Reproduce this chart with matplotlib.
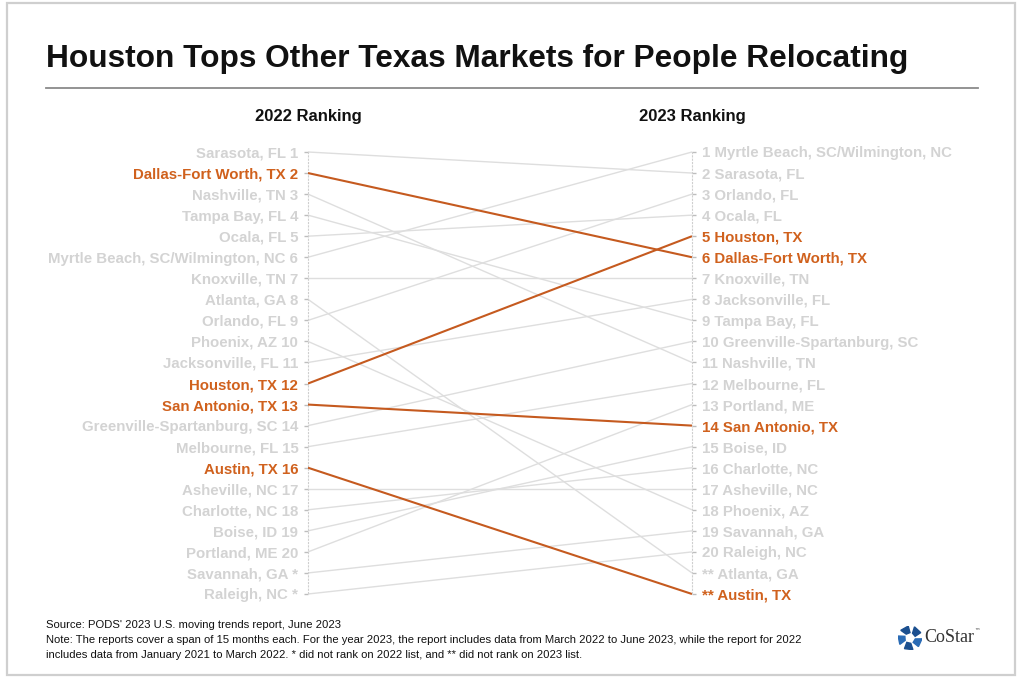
import matplotlib
matplotlib.use("Agg")
import matplotlib.pyplot as plt
from matplotlib.patches import Rectangle, Polygon
import numpy as np

plt.rcParams['font.family'] = ['Liberation Sans', 'DejaVu Sans']

# ---- data ----
cities = ["Sarasota, FL", "Dallas-Fort Worth, TX", "Nashville, TN", "Tampa Bay, FL",
          "Ocala, FL", "Myrtle Beach, SC/Wilmington, NC", "Knoxville, TN", "Atlanta, GA",
          "Orlando, FL", "Phoenix, AZ", "Jacksonville, FL", "Houston, TX",
          "San Antonio, TX", "Greenville-Spartanburg, SC", "Melbourne, FL", "Austin, TX",
          "Asheville, NC", "Charlotte, NC", "Boise, ID", "Portland, ME",
          "Savannah, GA", "Raleigh, NC"]
pos_2022 = [1, 2, 3, 4, 5, 6, 7, 8, 9, 10, 11, 12, 13, 14, 15, 16, 17, 18, 19, 20, 21, 22]
rank_2022 = ["1", "2", "3", "4", "5", "6", "7", "8", "9", "10", "11", "12", "13", "14",
             "15", "16", "17", "18", "19", "20", "*", "*"]
pos_2023 = [2, 6, 11, 9, 4, 1, 7, 21, 3, 18, 8, 5, 14, 10, 12, 22, 17, 16, 15, 13, 19, 20]
rank_2023 = ["2", "6", "11", "9", "4", "1", "7", "**", "3", "18", "8", "5", "14", "10",
             "12", "**", "17", "16", "15", "13", "19", "20"]
texas = ["Dallas-Fort Worth, TX", "Houston, TX", "San Antonio, TX", "Austin, TX"]

title = "Houston Tops Other Texas Markets for People Relocating"
source = "Source: PODS' 2023 U.S. moving trends report, June 2023"
note1 = ("Note: The reports cover a span of 15 months each. For the year 2023, the report includes "
         "data from March 2022 to June 2023, while the report for 2022")
note2 = ("includes data from January 2021 to March 2022. * did not rank on 2022 list, "
         "and ** did not rank on 2023 list.")

GREY_TXT = "#d3d3d3"
GREY_LN = "#dedede"
ORANGE_TXT = "#d0611d"
ORANGE_LN = "#c55a1f"

W, H = 1024, 678
fig = plt.figure(figsize=(W / 100, H / 100), dpi=100)

# frame
fig.patches.append(Rectangle((7 / W, 3 / H), (1015 - 7) / W, (675 - 3) / H,
                             transform=fig.transFigure, fill=False,
                             edgecolor="#cfcfcf", linewidth=1.6))

fig.text(46 / W, 1 - 59 / H, title, fontsize=22.8, fontweight="bold",
         ha="left", va="center", color="#111111")
fig.add_artist(plt.Line2D([46 / W, 978 / W], [1 - 88 / H, 1 - 88 / H],
                          transform=fig.transFigure, color="#8a8a8a", linewidth=1.3))

# main axes
xl, xr = 308, 692
y_top, y_bot = 152, 594
unit = (y_bot - y_top) / 21
ax_bottom = 1 - (y_bot + unit / 2) / H
ax_height = (22 * unit) / H
ax = fig.add_axes([xl / W, ax_bottom, (xr - xl) / W, ax_height])
ax.set_xlim(0, 1)
ax.set_ylim(22.5, 0.5)
ax.patch.set_visible(False)

order = sorted(range(len(cities)), key=lambda i: cities[i] in texas)
for i in order:
    hl = cities[i] in texas
    ax.plot([0, 1], [pos_2022[i], pos_2023[i]],
            color=ORANGE_LN if hl else GREY_LN,
            linewidth=1.5 if hl else 1.0, zorder=3 if hl else 2,
            solid_capstyle="butt")

for s in ["top", "bottom", "right"]:
    ax.spines[s].set_visible(False)
ax.spines["left"].set_linestyle((0, (1, 2)))
ax.spines["left"].set_color("#cfcfcf")
ax.spines["left"].set_bounds(1, 22)
ax.set_xticks([])

left_labels = [f"{c} {r}" for c, r in zip(cities, rank_2022)]
ax.set_yticks(pos_2022, labels=left_labels)
ax.tick_params(axis="y", length=3, width=1, color="#bdbdbd", pad=4, labelsize=10.8)
for lab, c in zip(ax.get_yticklabels(), cities):
    lab.set_fontweight("bold")
    lab.set_color(ORANGE_TXT if c in texas else GREY_TXT)

ax2 = ax.twinx()
ax2.set_ylim(22.5, 0.5)
for s in ["top", "bottom", "left"]:
    ax2.spines[s].set_visible(False)
ax2.spines["right"].set_linestyle((0, (1, 2)))
ax2.spines["right"].set_color("#cfcfcf")
ax2.spines["right"].set_bounds(1, 22)
right_labels = [f"{r} {c}" for c, r in zip(cities, rank_2023)]
ax2.set_yticks(pos_2023, labels=right_labels)
ax2.tick_params(axis="y", length=3, width=1, color="#bdbdbd", pad=4, labelsize=10.8)
for lab, c in zip(ax2.get_yticklabels(), cities):
    lab.set_fontweight("bold")
    lab.set_color(ORANGE_TXT if c in texas else GREY_TXT)

fig.text(xl / W, 1 - 116 / H, "2022 Ranking", fontsize=12, fontweight="bold",
         ha="center", va="center", color="#111111")
fig.text(xr / W, 1 - 116 / H, "2023 Ranking", fontsize=12, fontweight="bold",
         ha="center", va="center", color="#111111")

# footnotes
fig.text(46 / W, 1 - 625 / H, source, fontsize=8.1, ha="left", va="center", color="#111111")
fig.text(46 / W, 1 - 640 / H, note1, fontsize=8.1, ha="left", va="center", color="#111111")
fig.text(46 / W, 1 - 655 / H, note2, fontsize=8.1, ha="left", va="center", color="#111111")

# CoStar logo (approximation)
cx, cy = 910, 638
lax = fig.add_axes([(cx - 12) / W, 1 - (cy + 12) / H, 24 / W, 24 / H])
lax.set_xlim(-1, 1)
lax.set_ylim(-1, 1)
lax.axis("off")
for k in range(5):
    a0 = np.deg2rad(90 + k * 72)
    a1 = a0 + np.deg2rad(50)
    r0, r1 = 0.45, 1.0
    pts = [(r0 * np.cos(a0), r0 * np.sin(a0)), (r1 * np.cos(a0 + 0.15), r1 * np.sin(a0 + 0.15)),
           (r1 * np.cos(a1), r1 * np.sin(a1)), (r0 * np.cos(a1 - 0.1), r0 * np.sin(a1 - 0.1))]
    lax.add_patch(Polygon(pts, closed=True, color="#1b4f8f" if k % 2 == 0 else "#2a6bb5"))
fig.text(924 / W, 1 - 638 / H, "CoStar", fontsize=13, family="Liberation Serif",
         ha="left", va="center", color="#333333")
fig.text(974 / W, 1 - 632 / H, "™", fontsize=4, family="DejaVu Sans",
         ha="left", va="center", color="#333333")

fig.savefig("out.png", dpi=100)
